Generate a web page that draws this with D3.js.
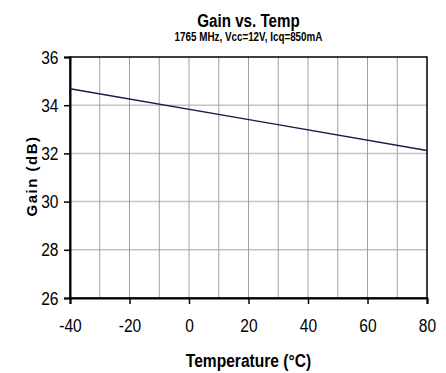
<!DOCTYPE html>
<html>
<head>
<meta charset="utf-8">
<script src="https://cdnjs.cloudflare.com/ajax/libs/d3/7.8.5/d3.min.js"></script>
<style>
  body { margin: 0; background: #fff; }
  text { font-family: "Liberation Sans", Arial, sans-serif; }
</style>
</head>
<body>
<div id="chart"></div>
<script>
// data
var temps = [-40, 25, 80];
var gains = [34.68, 33.30, 32.12];

var xTicks = [-40, -20, 0, 20, 40, 60, 80];
var xGrid = d3.range(-30, 80, 10);
var yTicks = [26, 28, 30, 32, 34, 36];

var svgWidth = 446;
var svgHeight = 373;
var narrow = 0.82; // the original text is a narrow face

var margin = { top: 57, right: 19, bottom: 75, left: 70 };
var width = svgWidth - margin.left - margin.right;
var height = svgHeight - margin.top - margin.bottom;

var svg = d3.select("#chart")
  .append("svg")
  .attr("width", svgWidth)
  .attr("height", svgHeight);

var chartGroup = svg.append("g")
  .attr("transform", `translate(${margin.left}, ${margin.top})`);

var x = d3.scaleLinear().domain([-40, 80]).range([0, width]);
var y = d3.scaleLinear().domain([26, 36]).range([height, 0]);

// grid
chartGroup.selectAll(".hgrid")
  .data(yTicks.slice(1, -1))
  .enter()
  .append("line")
  .attr("x1", 0).attr("x2", width)
  .attr("y1", d => y(d)).attr("y2", d => y(d))
  .attr("stroke", "#c4c4c4")
  .attr("stroke-width", 1.5);

chartGroup.selectAll(".vgrid")
  .data(xGrid)
  .enter()
  .append("line")
  .attr("x1", d => x(d)).attr("x2", d => x(d))
  .attr("y1", 0).attr("y2", height)
  .attr("stroke", "#a0a0a0")
  .attr("stroke-width", 1);

// frame
chartGroup.append("rect")
  .attr("width", width)
  .attr("height", height)
  .attr("fill", "none")
  .attr("stroke", "#000")
  .attr("stroke-width", 1.5);

// axes
var bottomAxis = d3.axisBottom(x).tickValues(xTicks).tickSize(6).tickPadding(15)
  .tickFormat(d => String(d));
var leftAxis = d3.axisLeft(y).tickValues(yTicks).tickSize(6).tickPadding(8)
  .tickFormat(d => String(d));

var xAxis = chartGroup.append("g")
  .attr("transform", `translate(0, ${height})`)
  .call(bottomAxis);

var yAxis = chartGroup.append("g")
  .call(leftAxis);

[xAxis, yAxis].forEach(function(a) {
  a.attr("font-family", null);
  a.select(".domain").attr("stroke", "#000").attr("stroke-width", 2);
  a.selectAll(".tick line").attr("stroke", "#000").attr("stroke-width", 1.5);
  a.selectAll("text")
    .attr("font-size", 19)
    .attr("fill", "#000")
    .attr("transform", `scale(${narrow},1)`);
});

// the gain line
var line = d3.line()
  .x((d, i) => x(temps[i]))
  .y(d => y(d));

chartGroup.append("path")
  .datum(gains)
  .attr("d", line)
  .attr("fill", "none")
  .attr("stroke", "#1a1a4a")
  .attr("stroke-width", 1.4);

// titles
var cx = margin.left + width / 2;

svg.append("text")
  .attr("transform", `translate(${cx}, 27) scale(${narrow},1)`)
  .attr("text-anchor", "middle")
  .attr("font-size", 18.5)
  .attr("font-weight", "bold")
  .text("Gain vs. Temp");

svg.append("text")
  .attr("transform", `translate(${cx}, 40.5) scale(${narrow},1)`)
  .attr("text-anchor", "middle")
  .attr("font-size", 12)
  .attr("font-weight", "bold")
  .text("1765 MHz, Vcc=12V, Icq=850mA");

svg.append("text")
  .attr("transform", `translate(${cx}, 367) scale(${narrow},1)`)
  .attr("text-anchor", "middle")
  .attr("font-size", 19)
  .attr("font-weight", "bold")
  .text("Temperature (°C)");

svg.append("text")
  .attr("transform", "translate(36.5, 176) rotate(-90)")
  .attr("text-anchor", "middle")
  .attr("font-size", 15)
  .attr("font-weight", "bold")
  .attr("letter-spacing", 1.5)
  .text("Gain (dB)");
</script>
</body>
</html>
